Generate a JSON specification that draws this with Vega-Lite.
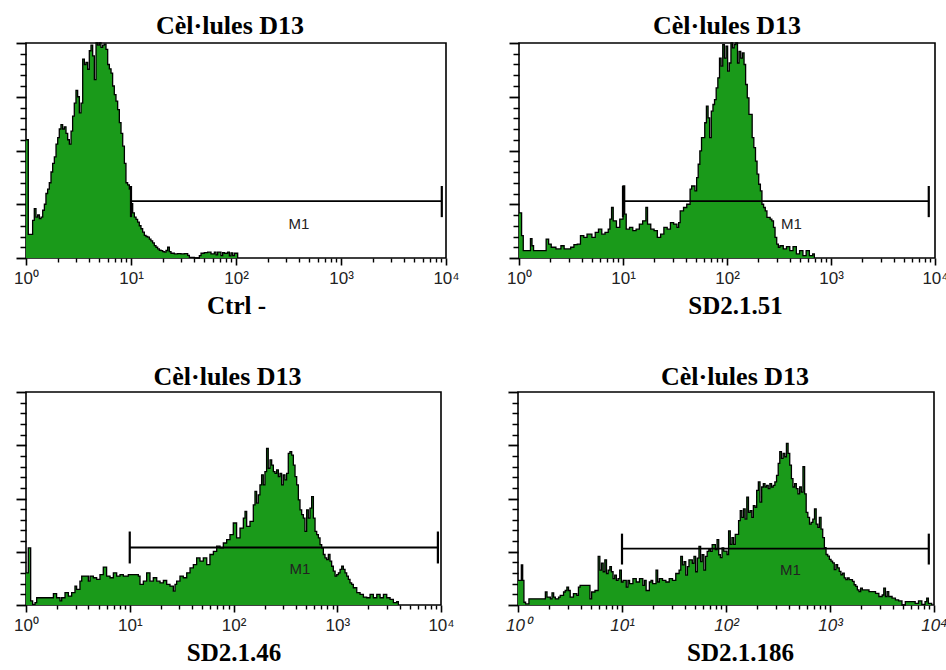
{
  "$schema": "https://vega.github.io/schema/vega-lite/v6.json",
  "background": "white",
  "padding": {"top": 12, "left": 12, "right": 0, "bottom": 0},
  "config": {
    "view": {"stroke": "black", "strokeWidth": 1.6},
    "title": {"font": "Liberation Serif", "fontSize": 26, "fontWeight": "bold", "color": "black", "anchor": "middle", "offset": 1},
    "axis": {"domain": false, "grid": false, "tickColor": "black", "labelFont": "Liberation Sans", "labelFontSize": 17, "labelColor": "#222", "labelFlush": false, "labelOverlap": false, "labelBound": false, "titleFont": "Liberation Serif", "titleFontSize": 25, "titleFontWeight": "bold", "titleColor": "black"}
  },
  "datasets": {
    "ctrl": [
      {"lx":0,"n":0.55},{"lx":0.022,"n":0.11},{"lx":0.063,"n":0.175},{"lx":0.079,"n":0.23},{"lx":0.095,"n":0.19},{"lx":0.111,"n":0.2},{"lx":0.127,"n":0.183},{"lx":0.143,"n":0.19},{"lx":0.159,"n":0.222},{"lx":0.175,"n":0.25},{"lx":0.19,"n":0.3},{"lx":0.206,"n":0.32},{"lx":0.222,"n":0.35},{"lx":0.238,"n":0.4},{"lx":0.254,"n":0.44},{"lx":0.27,"n":0.47},{"lx":0.286,"n":0.53},{"lx":0.302,"n":0.56},{"lx":0.317,"n":0.6},{"lx":0.333,"n":0.62},{"lx":0.349,"n":0.6},{"lx":0.365,"n":0.61},{"lx":0.381,"n":0.58},{"lx":0.397,"n":0.55},{"lx":0.413,"n":0.53},{"lx":0.429,"n":0.59},{"lx":0.444,"n":0.66},{"lx":0.46,"n":0.72},{"lx":0.476,"n":0.78},{"lx":0.492,"n":0.75},{"lx":0.508,"n":0.675},{"lx":0.524,"n":0.72},{"lx":0.54,"n":0.925},{"lx":0.556,"n":0.9},{"lx":0.571,"n":0.91},{"lx":0.587,"n":0.878},{"lx":0.603,"n":0.964},{"lx":0.619,"n":0.99},{"lx":0.635,"n":0.94},{"lx":0.651,"n":0.83},{"lx":0.667,"n":1.0},{"lx":0.683,"n":0.99},{"lx":0.698,"n":1.0},{"lx":0.714,"n":0.98},{"lx":0.73,"n":0.99},{"lx":0.746,"n":0.995},{"lx":0.762,"n":0.97},{"lx":0.778,"n":0.9},{"lx":0.794,"n":0.88},{"lx":0.81,"n":0.86},{"lx":0.825,"n":0.8},{"lx":0.841,"n":0.76},{"lx":0.857,"n":0.73},{"lx":0.873,"n":0.69},{"lx":0.889,"n":0.63},{"lx":0.905,"n":0.58},{"lx":0.921,"n":0.52},{"lx":0.937,"n":0.44},{"lx":0.952,"n":0.35},{"lx":0.968,"n":0.34},{"lx":0.984,"n":0.32},{"lx":1.0,"n":0.253},{"lx":1.016,"n":0.21},{"lx":1.032,"n":0.19},{"lx":1.048,"n":0.18},{"lx":1.063,"n":0.167},{"lx":1.079,"n":0.15},{"lx":1.095,"n":0.136},{"lx":1.111,"n":0.12},{"lx":1.127,"n":0.105},{"lx":1.143,"n":0.1},{"lx":1.159,"n":0.097},{"lx":1.175,"n":0.088},{"lx":1.19,"n":0.08},{"lx":1.206,"n":0.07},{"lx":1.222,"n":0.058},{"lx":1.238,"n":0.05},{"lx":1.254,"n":0.042},{"lx":1.27,"n":0.036},{"lx":1.286,"n":0.034},{"lx":1.302,"n":0.03},{"lx":1.317,"n":0.027},{"lx":1.333,"n":0.035},{"lx":1.349,"n":0.05},{"lx":1.365,"n":0.03},{"lx":1.381,"n":0.022},{"lx":1.413,"n":0.019},{"lx":1.444,"n":0.02},{"lx":1.476,"n":0.019},{"lx":1.508,"n":0.02},{"lx":1.54,"n":0.012},{"lx":1.556,"n":0.003},{"lx":1.603,"n":0.0},{"lx":1.651,"n":0.011},{"lx":1.667,"n":0.022},{"lx":1.698,"n":0.025},{"lx":1.73,"n":0.027},{"lx":1.762,"n":0.019},{"lx":1.794,"n":0.027},{"lx":1.81,"n":0.015},{"lx":1.825,"n":0.027},{"lx":1.857,"n":0.011},{"lx":1.873,"n":0.025},{"lx":1.889,"n":0.022},{"lx":1.921,"n":0.027},{"lx":1.937,"n":0.01},{"lx":1.952,"n":0.024},{"lx":1.968,"n":0.011},{"lx":1.984,"n":0.022},{"lx":2.016,"n":0}
    ],
    "sd51": [
      {"lx":0,"n":0.21},{"lx":0.025,"n":0.104},{"lx":0.041,"n":0.034},{"lx":0.11,"n":0.09},{"lx":0.125,"n":0.057},{"lx":0.14,"n":0.034},{"lx":0.261,"n":0.088},{"lx":0.285,"n":0.065},{"lx":0.31,"n":0.05},{"lx":0.355,"n":0.042},{"lx":0.403,"n":0.057},{"lx":0.434,"n":0.042},{"lx":0.497,"n":0.05},{"lx":0.528,"n":0.062},{"lx":0.56,"n":0.065},{"lx":0.591,"n":0.104},{"lx":0.623,"n":0.096},{"lx":0.654,"n":0.111},{"lx":0.701,"n":0.096},{"lx":0.733,"n":0.119},{"lx":0.764,"n":0.134},{"lx":0.796,"n":0.111},{"lx":0.827,"n":0.119},{"lx":0.858,"n":0.134},{"lx":0.874,"n":0.181},{"lx":0.89,"n":0.235},{"lx":0.906,"n":0.173},{"lx":0.937,"n":0.142},{"lx":0.969,"n":0.181},{"lx":1.0,"n":0.335},{"lx":1.016,"n":0.204},{"lx":1.031,"n":0.134},{"lx":1.063,"n":0.142},{"lx":1.094,"n":0.127},{"lx":1.126,"n":0.134},{"lx":1.157,"n":0.158},{"lx":1.189,"n":0.173},{"lx":1.22,"n":0.235},{"lx":1.236,"n":0.158},{"lx":1.267,"n":0.134},{"lx":1.299,"n":0.127},{"lx":1.33,"n":0.096},{"lx":1.362,"n":0.111},{"lx":1.393,"n":0.142},{"lx":1.425,"n":0.134},{"lx":1.456,"n":0.165},{"lx":1.487,"n":0.158},{"lx":1.519,"n":0.142},{"lx":1.535,"n":0.165},{"lx":1.55,"n":0.219},{"lx":1.582,"n":0.235},{"lx":1.613,"n":0.25},{"lx":1.645,"n":0.32},{"lx":1.66,"n":0.335},{"lx":1.692,"n":0.312},{"lx":1.708,"n":0.374},{"lx":1.723,"n":0.436},{"lx":1.739,"n":0.498},{"lx":1.755,"n":0.56},{"lx":1.786,"n":0.629},{"lx":1.802,"n":0.706},{"lx":1.818,"n":0.652},{"lx":1.833,"n":0.56},{"lx":1.849,"n":0.683},{"lx":1.865,"n":0.714},{"lx":1.88,"n":0.737},{"lx":1.896,"n":0.791},{"lx":1.912,"n":0.838},{"lx":1.928,"n":0.93},{"lx":1.943,"n":0.892},{"lx":1.959,"n":0.992},{"lx":1.975,"n":0.93},{"lx":1.991,"n":0.985},{"lx":2.006,"n":0.869},{"lx":2.022,"n":0.907},{"lx":2.038,"n":1.0},{"lx":2.053,"n":0.977},{"lx":2.069,"n":0.992},{"lx":2.085,"n":1.0},{"lx":2.101,"n":0.907},{"lx":2.116,"n":0.961},{"lx":2.132,"n":0.93},{"lx":2.148,"n":0.954},{"lx":2.164,"n":0.9},{"lx":2.179,"n":0.807},{"lx":2.195,"n":0.745},{"lx":2.211,"n":0.668},{"lx":2.242,"n":0.56},{"lx":2.258,"n":0.513},{"lx":2.274,"n":0.451},{"lx":2.289,"n":0.39},{"lx":2.305,"n":0.343},{"lx":2.321,"n":0.312},{"lx":2.336,"n":0.25},{"lx":2.352,"n":0.235},{"lx":2.368,"n":0.219},{"lx":2.384,"n":0.189},{"lx":2.415,"n":0.181},{"lx":2.431,"n":0.173},{"lx":2.447,"n":0.142},{"lx":2.462,"n":0.096},{"lx":2.478,"n":0.065},{"lx":2.494,"n":0.049},{"lx":2.509,"n":0.057},{"lx":2.541,"n":0.042},{"lx":2.572,"n":0.053},{"lx":2.604,"n":0.034},{"lx":2.635,"n":0.053},{"lx":2.667,"n":0.019},{"lx":2.698,"n":0.034},{"lx":2.73,"n":0.011},{"lx":2.761,"n":0.034},{"lx":2.792,"n":0.011},{"lx":2.824,"n":0.019},{"lx":2.84,"n":0}
    ],
    "sd46": [
      {"lx":0,"n":0.151},{"lx":0.022,"n":0.268},{"lx":0.045,"n":0.019},{"lx":0.064,"n":0.003},{"lx":0.087,"n":0.011},{"lx":0.103,"n":0.034},{"lx":0.264,"n":0.053},{"lx":0.295,"n":0.034},{"lx":0.328,"n":0.019},{"lx":0.344,"n":0.034},{"lx":0.376,"n":0.058},{"lx":0.408,"n":0.042},{"lx":0.44,"n":0.058},{"lx":0.472,"n":0.089},{"lx":0.488,"n":0.073},{"lx":0.52,"n":0.112},{"lx":0.537,"n":0.136},{"lx":0.601,"n":0.112},{"lx":0.617,"n":0.136},{"lx":0.649,"n":0.128},{"lx":0.681,"n":0.12},{"lx":0.713,"n":0.143},{"lx":0.745,"n":0.178},{"lx":0.777,"n":0.136},{"lx":0.81,"n":0.128},{"lx":0.842,"n":0.151},{"lx":0.874,"n":0.136},{"lx":0.906,"n":0.143},{"lx":0.938,"n":0.136},{"lx":0.986,"n":0.143},{"lx":1.034,"n":0.143},{"lx":1.083,"n":0.136},{"lx":1.099,"n":0.097},{"lx":1.131,"n":0.112},{"lx":1.163,"n":0.151},{"lx":1.195,"n":0.112},{"lx":1.227,"n":0.128},{"lx":1.26,"n":0.112},{"lx":1.292,"n":0.104},{"lx":1.324,"n":0.115},{"lx":1.356,"n":0.097},{"lx":1.388,"n":0.089},{"lx":1.42,"n":0.065},{"lx":1.436,"n":0.097},{"lx":1.452,"n":0.112},{"lx":1.484,"n":0.136},{"lx":1.516,"n":0.128},{"lx":1.549,"n":0.151},{"lx":1.581,"n":0.174},{"lx":1.613,"n":0.19},{"lx":1.645,"n":0.221},{"lx":1.677,"n":0.206},{"lx":1.709,"n":0.221},{"lx":1.742,"n":0.19},{"lx":1.773,"n":0.237},{"lx":1.806,"n":0.252},{"lx":1.838,"n":0.276},{"lx":1.87,"n":0.268},{"lx":1.902,"n":0.291},{"lx":1.934,"n":0.307},{"lx":1.966,"n":0.33},{"lx":1.998,"n":0.385},{"lx":2.03,"n":0.315},{"lx":2.063,"n":0.361},{"lx":2.095,"n":0.408},{"lx":2.111,"n":0.439},{"lx":2.127,"n":0.369},{"lx":2.159,"n":0.393},{"lx":2.191,"n":0.47},{"lx":2.207,"n":0.533},{"lx":2.223,"n":0.478},{"lx":2.239,"n":0.517},{"lx":2.255,"n":0.564},{"lx":2.271,"n":0.611},{"lx":2.287,"n":0.564},{"lx":2.303,"n":0.626},{"lx":2.319,"n":0.735},{"lx":2.335,"n":0.642},{"lx":2.352,"n":0.681},{"lx":2.368,"n":0.657},{"lx":2.384,"n":0.626},{"lx":2.4,"n":0.618},{"lx":2.416,"n":0.634},{"lx":2.432,"n":0.603},{"lx":2.448,"n":0.618},{"lx":2.464,"n":0.564},{"lx":2.48,"n":0.611},{"lx":2.496,"n":0.587},{"lx":2.512,"n":0.618},{"lx":2.528,"n":0.712},{"lx":2.544,"n":0.72},{"lx":2.561,"n":0.704},{"lx":2.577,"n":0.657},{"lx":2.593,"n":0.603},{"lx":2.609,"n":0.564},{"lx":2.625,"n":0.494},{"lx":2.641,"n":0.447},{"lx":2.657,"n":0.424},{"lx":2.673,"n":0.408},{"lx":2.689,"n":0.346},{"lx":2.705,"n":0.447},{"lx":2.721,"n":0.408},{"lx":2.737,"n":0.455},{"lx":2.753,"n":0.509},{"lx":2.77,"n":0.408},{"lx":2.786,"n":0.346},{"lx":2.802,"n":0.33},{"lx":2.818,"n":0.315},{"lx":2.834,"n":0.283},{"lx":2.85,"n":0.268},{"lx":2.866,"n":0.237},{"lx":2.882,"n":0.221},{"lx":2.898,"n":0.213},{"lx":2.914,"n":0.237},{"lx":2.93,"n":0.206},{"lx":2.946,"n":0.182},{"lx":2.962,"n":0.159},{"lx":2.979,"n":0.136},{"lx":2.995,"n":0.143},{"lx":3.011,"n":0.151},{"lx":3.027,"n":0.167},{"lx":3.043,"n":0.182},{"lx":3.059,"n":0.167},{"lx":3.075,"n":0.151},{"lx":3.091,"n":0.136},{"lx":3.107,"n":0.12},{"lx":3.123,"n":0.104},{"lx":3.139,"n":0.097},{"lx":3.155,"n":0.081},{"lx":3.188,"n":0.058},{"lx":3.22,"n":0.05},{"lx":3.252,"n":0.037},{"lx":3.284,"n":0.034},{"lx":3.316,"n":0.05},{"lx":3.348,"n":0.034},{"lx":3.381,"n":0.05},{"lx":3.413,"n":0.034},{"lx":3.445,"n":0.05},{"lx":3.477,"n":0.034},{"lx":3.509,"n":0.026},{"lx":3.541,"n":0.011},{"lx":3.573,"n":0.016},{"lx":3.589,"n":0}
    ],
    "sd186": [
      {"lx":0,"n":0.116},{"lx":0.032,"n":0.188},{"lx":0.045,"n":0.116},{"lx":0.057,"n":0.013},{"lx":0.073,"n":0.005},{"lx":0.105,"n":0.029},{"lx":0.263,"n":0.061},{"lx":0.279,"n":0.037},{"lx":0.311,"n":0.029},{"lx":0.327,"n":0.057},{"lx":0.343,"n":0.037},{"lx":0.359,"n":0.029},{"lx":0.39,"n":0.037},{"lx":0.406,"n":0.045},{"lx":0.438,"n":0.061},{"lx":0.454,"n":0.068},{"lx":0.47,"n":0.084},{"lx":0.486,"n":0.068},{"lx":0.502,"n":0.037},{"lx":0.533,"n":0.053},{"lx":0.565,"n":0.045},{"lx":0.581,"n":0.084},{"lx":0.597,"n":0.092},{"lx":0.692,"n":0.029},{"lx":0.708,"n":0.061},{"lx":0.74,"n":0.068},{"lx":0.771,"n":0.228},{"lx":0.787,"n":0.164},{"lx":0.803,"n":0.196},{"lx":0.819,"n":0.156},{"lx":0.835,"n":0.212},{"lx":0.851,"n":0.148},{"lx":0.867,"n":0.164},{"lx":0.883,"n":0.18},{"lx":0.898,"n":0.156},{"lx":0.914,"n":0.124},{"lx":0.93,"n":0.14},{"lx":0.946,"n":0.116},{"lx":0.962,"n":0.124},{"lx":0.978,"n":0.164},{"lx":0.994,"n":0.108},{"lx":1.01,"n":0.116},{"lx":1.041,"n":0.084},{"lx":1.057,"n":0.116},{"lx":1.073,"n":0.1},{"lx":1.105,"n":0.124},{"lx":1.137,"n":0.108},{"lx":1.168,"n":0.124},{"lx":1.2,"n":0.092},{"lx":1.216,"n":0.116},{"lx":1.232,"n":0.068},{"lx":1.263,"n":0.108},{"lx":1.279,"n":0.116},{"lx":1.295,"n":0.1},{"lx":1.327,"n":0.164},{"lx":1.343,"n":0.108},{"lx":1.359,"n":0.124},{"lx":1.39,"n":0.116},{"lx":1.422,"n":0.108},{"lx":1.454,"n":0.124},{"lx":1.486,"n":0.116},{"lx":1.517,"n":0.148},{"lx":1.549,"n":0.164},{"lx":1.565,"n":0.228},{"lx":1.581,"n":0.188},{"lx":1.597,"n":0.204},{"lx":1.613,"n":0.14},{"lx":1.629,"n":0.18},{"lx":1.644,"n":0.212},{"lx":1.676,"n":0.196},{"lx":1.692,"n":0.228},{"lx":1.708,"n":0.156},{"lx":1.724,"n":0.22},{"lx":1.74,"n":0.275},{"lx":1.756,"n":0.204},{"lx":1.771,"n":0.236},{"lx":1.787,"n":0.164},{"lx":1.803,"n":0.228},{"lx":1.819,"n":0.252},{"lx":1.835,"n":0.26},{"lx":1.851,"n":0.252},{"lx":1.867,"n":0.283},{"lx":1.898,"n":0.26},{"lx":1.914,"n":0.307},{"lx":1.93,"n":0.236},{"lx":1.946,"n":0.222},{"lx":1.962,"n":0.268},{"lx":1.978,"n":0.253},{"lx":2.01,"n":0.237},{"lx":2.025,"n":0.348},{"lx":2.041,"n":0.285},{"lx":2.057,"n":0.316},{"lx":2.073,"n":0.285},{"lx":2.089,"n":0.332},{"lx":2.121,"n":0.396},{"lx":2.137,"n":0.443},{"lx":2.152,"n":0.411},{"lx":2.168,"n":0.451},{"lx":2.184,"n":0.403},{"lx":2.2,"n":0.506},{"lx":2.216,"n":0.435},{"lx":2.232,"n":0.443},{"lx":2.248,"n":0.411},{"lx":2.263,"n":0.467},{"lx":2.279,"n":0.459},{"lx":2.295,"n":0.538},{"lx":2.311,"n":0.578},{"lx":2.327,"n":0.483},{"lx":2.343,"n":0.554},{"lx":2.359,"n":0.57},{"lx":2.375,"n":0.554},{"lx":2.39,"n":0.562},{"lx":2.406,"n":0.546},{"lx":2.422,"n":0.57},{"lx":2.438,"n":0.554},{"lx":2.454,"n":0.562},{"lx":2.47,"n":0.578},{"lx":2.486,"n":0.609},{"lx":2.502,"n":0.665},{"lx":2.517,"n":0.72},{"lx":2.533,"n":0.688},{"lx":2.549,"n":0.712},{"lx":2.565,"n":0.696},{"lx":2.581,"n":0.759},{"lx":2.597,"n":0.712},{"lx":2.613,"n":0.657},{"lx":2.629,"n":0.593},{"lx":2.644,"n":0.554},{"lx":2.66,"n":0.57},{"lx":2.676,"n":0.546},{"lx":2.692,"n":0.522},{"lx":2.708,"n":0.554},{"lx":2.724,"n":0.53},{"lx":2.74,"n":0.649},{"lx":2.756,"n":0.522},{"lx":2.771,"n":0.435},{"lx":2.787,"n":0.411},{"lx":2.803,"n":0.38},{"lx":2.819,"n":0.388},{"lx":2.835,"n":0.403},{"lx":2.851,"n":0.451},{"lx":2.867,"n":0.38},{"lx":2.883,"n":0.364},{"lx":2.898,"n":0.411},{"lx":2.914,"n":0.356},{"lx":2.93,"n":0.316},{"lx":2.946,"n":0.269},{"lx":2.962,"n":0.237},{"lx":2.978,"n":0.229},{"lx":2.994,"n":0.214},{"lx":3.01,"n":0.206},{"lx":3.025,"n":0.198},{"lx":3.041,"n":0.166},{"lx":3.057,"n":0.19},{"lx":3.073,"n":0.174},{"lx":3.089,"n":0.158},{"lx":3.105,"n":0.142},{"lx":3.121,"n":0.15},{"lx":3.137,"n":0.127},{"lx":3.152,"n":0.119},{"lx":3.168,"n":0.127},{"lx":3.184,"n":0.119},{"lx":3.216,"n":0.111},{"lx":3.232,"n":0.095},{"lx":3.248,"n":0.087},{"lx":3.263,"n":0.071},{"lx":3.279,"n":0.063},{"lx":3.295,"n":0.079},{"lx":3.311,"n":0.071},{"lx":3.375,"n":0.063},{"lx":3.438,"n":0.055},{"lx":3.47,"n":0.04},{"lx":3.502,"n":0.047},{"lx":3.517,"n":0.079},{"lx":3.533,"n":0.04},{"lx":3.549,"n":0.063},{"lx":3.565,"n":0.04},{"lx":3.597,"n":0.032},{"lx":3.629,"n":0.024},{"lx":3.66,"n":0.019},{"lx":3.692,"n":0},{"lx":3.724,"n":0.016},{"lx":3.787,"n":0.016},{"lx":3.819,"n":0.008},{"lx":3.851,"n":0.019},{"lx":3.883,"n":0.003},{"lx":3.914,"n":0.016},{"lx":3.93,"n":0.032},{"lx":3.946,"n":0.008},{"lx":3.978,"n":0}
    ],
    "gates": [
      {"panel":"ctrl","lo":1.0,"hi":3.96,"g":0.265,"c1":0.19,"c2":0.335,"mx":2.6,"my":0.19,"label":"M1"},
      {"panel":"sd51","lo":1.0,"hi":3.94,"g":0.265,"c1":0.19,"c2":0.335,"mx":2.62,"my":0.19,"label":"M1"},
      {"panel":"sd46","lo":1.0,"hi":3.97,"g":0.27,"c1":0.195,"c2":0.345,"mx":2.64,"my":0.2,"label":"M1"},
      {"panel":"sd186","lo":1.0,"hi":3.95,"g":0.265,"c1":0.19,"c2":0.335,"mx":2.62,"my":0.195,"label":"M1"}
    ]
  },
  "vconcat": [
    {
      "hconcat": [
        {
          "width": 420, "height": 215,
          "title": {"text": "Cèl·lules D13", "dx": -6},
          "resolve": {"axis": {"x": "independent", "y": "independent"}},
          "layer": [
            {"data": {"name": "ctrl"}, "mark": {"type": "area", "interpolate": "step-after", "color": "#1a9a1a"},
             "encoding": {
               "x": {"field": "lx", "type": "quantitative", "scale": {"domain": [0, 4], "nice": false, "zero": false},
                     "axis": {"orient": "bottom", "title": null, "labels": false, "tickSize": 4, "tickWidth": 1.4, "values": [0.30103,0.47712,0.60206,0.69897,0.77815,0.8451,0.90309,0.95424,1.30103,1.47712,1.60206,1.69897,1.77815,1.8451,1.90309,1.95424,2.30103,2.47712,2.60206,2.69897,2.77815,2.8451,2.90309,2.95424,3.30103,3.47712,3.60206,3.69897,3.77815,3.8451,3.90309,3.95424]}},
               "y": {"field": "n", "type": "quantitative", "scale": {"domain": [0, 1], "nice": false},
                     "axis": {"orient": "left", "title": null, "labels": false, "tickSize": 6, "tickWidth": 1.5, "values": [0.05,0.1,0.15,0.2,0.3,0.35,0.4,0.45,0.55,0.6,0.65,0.7,0.8,0.85,0.9,0.95]}}
             }},
            {"data": {"name": "ctrl"}, "mark": {"type": "line", "interpolate": "step-after", "color": "black", "strokeWidth": 1.3},
             "encoding": {
               "x": {"field": "lx", "type": "quantitative",
                     "axis": {"orient": "bottom", "title": "Ctrl -", "values": [0,1,2,3,4], "tickSize": 7, "tickWidth": 1.6, "labelPadding": 5, "titlePadding": 7,
                              "labelExpr": "'10' + ['⁰','¹','²','³','⁴'][round(datum.value)]"}},
               "y": {"field": "n", "type": "quantitative",
                     "axis": {"orient": "left", "title": null, "labels": false, "tickSize": 10, "tickWidth": 1.8, "values": [0,0.25,0.5,0.75,1]}}
             }},
            {"data": {"name": "gates"}, "transform": [{"filter": "datum.panel == 'ctrl'"}],
             "layer": [
               {"mark": {"type": "rule", "color": "black", "strokeWidth": 1.8}, "encoding": {"x": {"field": "lo", "type": "quantitative", "axis": null}, "x2": {"field": "hi"}, "y": {"field": "g", "type": "quantitative", "axis": null}}},
               {"mark": {"type": "rule", "color": "black", "strokeWidth": 2.2}, "encoding": {"x": {"field": "lo", "type": "quantitative", "axis": null}, "y": {"field": "c1", "type": "quantitative", "axis": null}, "y2": {"field": "c2"}}},
               {"mark": {"type": "rule", "color": "black", "strokeWidth": 2.2}, "encoding": {"x": {"field": "hi", "type": "quantitative", "axis": null}, "y": {"field": "c1", "type": "quantitative", "axis": null}, "y2": {"field": "c2"}}},
               {"mark": {"type": "text", "font": "Liberation Sans", "fontSize": 15, "color": "#222", "baseline": "top", "align": "center"}, "encoding": {"x": {"field": "mx", "type": "quantitative", "axis": null}, "y": {"field": "my", "type": "quantitative", "axis": null}, "text": {"field": "label"}}}
             ]}
          ]
        },
        {
          "width": 416, "height": 215,
          "title": {"text": "Cèl·lules D13", "dx": 0},
          "resolve": {"axis": {"x": "independent", "y": "independent"}},
          "layer": [
            {"data": {"name": "sd51"}, "mark": {"type": "area", "interpolate": "step-after", "color": "#1a9a1a"},
             "encoding": {
               "x": {"field": "lx", "type": "quantitative", "scale": {"domain": [0, 4], "nice": false, "zero": false},
                     "axis": {"orient": "bottom", "title": null, "labels": false, "tickSize": 4, "tickWidth": 1.4, "values": [0.30103,0.47712,0.60206,0.69897,0.77815,0.8451,0.90309,0.95424,1.30103,1.47712,1.60206,1.69897,1.77815,1.8451,1.90309,1.95424,2.30103,2.47712,2.60206,2.69897,2.77815,2.8451,2.90309,2.95424,3.30103,3.47712,3.60206,3.69897,3.77815,3.8451,3.90309,3.95424]}},
               "y": {"field": "n", "type": "quantitative", "scale": {"domain": [0, 1], "nice": false},
                     "axis": {"orient": "left", "title": null, "labels": false, "tickSize": 6, "tickWidth": 1.5, "values": [0.05,0.1,0.15,0.2,0.3,0.35,0.4,0.45,0.55,0.6,0.65,0.7,0.8,0.85,0.9,0.95]}}
             }},
            {"data": {"name": "sd51"}, "mark": {"type": "line", "interpolate": "step-after", "color": "black", "strokeWidth": 1.3},
             "encoding": {
               "x": {"field": "lx", "type": "quantitative",
                     "axis": {"orient": "bottom", "title": "SD2.1.51", "titleX": 216, "values": [0,1,2,3,4], "tickSize": 7, "tickWidth": 1.6, "labelPadding": 5, "titlePadding": 7,
                              "labelExpr": "'10' + ['⁰','¹','²','³','⁴'][round(datum.value)]"}},
               "y": {"field": "n", "type": "quantitative",
                     "axis": {"orient": "left", "title": null, "labels": false, "tickSize": 10, "tickWidth": 1.8, "values": [0,0.25,0.5,0.75,1]}}
             }},
            {"data": {"name": "gates"}, "transform": [{"filter": "datum.panel == 'sd51'"}],
             "layer": [
               {"mark": {"type": "rule", "color": "black", "strokeWidth": 1.8}, "encoding": {"x": {"field": "lo", "type": "quantitative", "axis": null}, "x2": {"field": "hi"}, "y": {"field": "g", "type": "quantitative", "axis": null}}},
               {"mark": {"type": "rule", "color": "black", "strokeWidth": 2.2}, "encoding": {"x": {"field": "lo", "type": "quantitative", "axis": null}, "y": {"field": "c1", "type": "quantitative", "axis": null}, "y2": {"field": "c2"}}},
               {"mark": {"type": "rule", "color": "black", "strokeWidth": 2.2}, "encoding": {"x": {"field": "hi", "type": "quantitative", "axis": null}, "y": {"field": "c1", "type": "quantitative", "axis": null}, "y2": {"field": "c2"}}},
               {"mark": {"type": "text", "font": "Liberation Sans", "fontSize": 15, "color": "#222", "baseline": "top", "align": "center"}, "encoding": {"x": {"field": "mx", "type": "quantitative", "axis": null}, "y": {"field": "my", "type": "quantitative", "axis": null}, "text": {"field": "label"}}}
             ]}
          ]
        }
      ],
      "spacing": 45
    },
    {
      "hconcat": [
        {
          "width": 415, "height": 213,
          "title": {"text": "Cèl·lules D13", "dx": -6},
          "resolve": {"axis": {"x": "independent", "y": "independent"}},
          "layer": [
            {"data": {"name": "sd46"}, "mark": {"type": "area", "interpolate": "step-after", "color": "#1a9a1a"},
             "encoding": {
               "x": {"field": "lx", "type": "quantitative", "scale": {"domain": [0, 4], "nice": false, "zero": false},
                     "axis": {"orient": "bottom", "title": null, "labels": false, "tickSize": 4, "tickWidth": 1.4, "values": [0.30103,0.47712,0.60206,0.69897,0.77815,0.8451,0.90309,0.95424,1.30103,1.47712,1.60206,1.69897,1.77815,1.8451,1.90309,1.95424,2.30103,2.47712,2.60206,2.69897,2.77815,2.8451,2.90309,2.95424,3.30103,3.47712,3.60206,3.69897,3.77815,3.8451,3.90309,3.95424]}},
               "y": {"field": "n", "type": "quantitative", "scale": {"domain": [0, 1], "nice": false},
                     "axis": {"orient": "left", "title": null, "labels": false, "tickSize": 6, "tickWidth": 1.5, "values": [0.05,0.1,0.15,0.2,0.3,0.35,0.4,0.45,0.55,0.6,0.65,0.7,0.8,0.85,0.9,0.95]}}
             }},
            {"data": {"name": "sd46"}, "mark": {"type": "line", "interpolate": "step-after", "color": "black", "strokeWidth": 1.3},
             "encoding": {
               "x": {"field": "lx", "type": "quantitative",
                     "axis": {"orient": "bottom", "title": "SD2.1.46", "values": [0,1,2,3,4], "tickSize": 7, "tickWidth": 1.6, "labelPadding": 5, "titlePadding": 7,
                              "labelExpr": "'10' + ['⁰','¹','²','³','⁴'][round(datum.value)]"}},
               "y": {"field": "n", "type": "quantitative",
                     "axis": {"orient": "left", "title": null, "labels": false, "tickSize": 10, "tickWidth": 1.8, "values": [0,0.25,0.5,0.75,1]}}
             }},
            {"data": {"name": "gates"}, "transform": [{"filter": "datum.panel == 'sd46'"}],
             "layer": [
               {"mark": {"type": "rule", "color": "black", "strokeWidth": 1.8}, "encoding": {"x": {"field": "lo", "type": "quantitative", "axis": null}, "x2": {"field": "hi"}, "y": {"field": "g", "type": "quantitative", "axis": null}}},
               {"mark": {"type": "rule", "color": "black", "strokeWidth": 2.2}, "encoding": {"x": {"field": "lo", "type": "quantitative", "axis": null}, "y": {"field": "c1", "type": "quantitative", "axis": null}, "y2": {"field": "c2"}}},
               {"mark": {"type": "rule", "color": "black", "strokeWidth": 2.2}, "encoding": {"x": {"field": "hi", "type": "quantitative", "axis": null}, "y": {"field": "c1", "type": "quantitative", "axis": null}, "y2": {"field": "c2"}}},
               {"mark": {"type": "text", "font": "Liberation Sans", "fontSize": 15, "color": "#222", "baseline": "top", "align": "center"}, "encoding": {"x": {"field": "mx", "type": "quantitative", "axis": null}, "y": {"field": "my", "type": "quantitative", "axis": null}, "text": {"field": "label"}}}
             ]}
          ]
        },
        {
          "width": 416, "height": 213,
          "title": {"text": "Cèl·lules D13", "dx": 9},
          "resolve": {"axis": {"x": "independent", "y": "independent"}},
          "layer": [
            {"data": {"name": "sd186"}, "mark": {"type": "area", "interpolate": "step-after", "color": "#1a9a1a"},
             "encoding": {
               "x": {"field": "lx", "type": "quantitative", "scale": {"domain": [0, 4], "nice": false, "zero": false},
                     "axis": {"orient": "bottom", "title": null, "labels": false, "tickSize": 4, "tickWidth": 1.4, "values": [0.30103,0.47712,0.60206,0.69897,0.77815,0.8451,0.90309,0.95424,1.30103,1.47712,1.60206,1.69897,1.77815,1.8451,1.90309,1.95424,2.30103,2.47712,2.60206,2.69897,2.77815,2.8451,2.90309,2.95424,3.30103,3.47712,3.60206,3.69897,3.77815,3.8451,3.90309,3.95424]}},
               "y": {"field": "n", "type": "quantitative", "scale": {"domain": [0, 1], "nice": false},
                     "axis": {"orient": "left", "title": null, "labels": false, "tickSize": 6, "tickWidth": 1.5, "values": [0.05,0.1,0.15,0.2,0.3,0.35,0.4,0.45,0.55,0.6,0.65,0.7,0.8,0.85,0.9,0.95]}}
             }},
            {"data": {"name": "sd186"}, "mark": {"type": "line", "interpolate": "step-after", "color": "black", "strokeWidth": 1.3},
             "encoding": {
               "x": {"field": "lx", "type": "quantitative",
                     "axis": {"orient": "bottom", "title": "SD2.1.186", "titleX": 222, "values": [0,1,2,3,4], "tickSize": 7, "tickWidth": 1.6, "labelPadding": 5, "titlePadding": 7, "labelFontStyle": "italic",
                              "labelExpr": "'10' + ['⁰','¹','²','³','⁴'][round(datum.value)]"}},
               "y": {"field": "n", "type": "quantitative",
                     "axis": {"orient": "left", "title": null, "labels": false, "tickSize": 10, "tickWidth": 1.8, "values": [0,0.25,0.5,0.75,1]}}
             }},
            {"data": {"name": "gates"}, "transform": [{"filter": "datum.panel == 'sd186'"}],
             "layer": [
               {"mark": {"type": "rule", "color": "black", "strokeWidth": 1.8}, "encoding": {"x": {"field": "lo", "type": "quantitative", "axis": null}, "x2": {"field": "hi"}, "y": {"field": "g", "type": "quantitative", "axis": null}}},
               {"mark": {"type": "rule", "color": "black", "strokeWidth": 2.2}, "encoding": {"x": {"field": "lo", "type": "quantitative", "axis": null}, "y": {"field": "c1", "type": "quantitative", "axis": null}, "y2": {"field": "c2"}}},
               {"mark": {"type": "rule", "color": "black", "strokeWidth": 2.2}, "encoding": {"x": {"field": "hi", "type": "quantitative", "axis": null}, "y": {"field": "c1", "type": "quantitative", "axis": null}, "y2": {"field": "c2"}}},
               {"mark": {"type": "text", "font": "Liberation Sans", "fontSize": 15, "color": "#222", "baseline": "top", "align": "center"}, "encoding": {"x": {"field": "mx", "type": "quantitative", "axis": null}, "y": {"field": "my", "type": "quantitative", "axis": null}, "text": {"field": "label"}}}
             ]}
          ]
        }
      ],
      "spacing": 49
    }
  ],
  "spacing": 44
}
